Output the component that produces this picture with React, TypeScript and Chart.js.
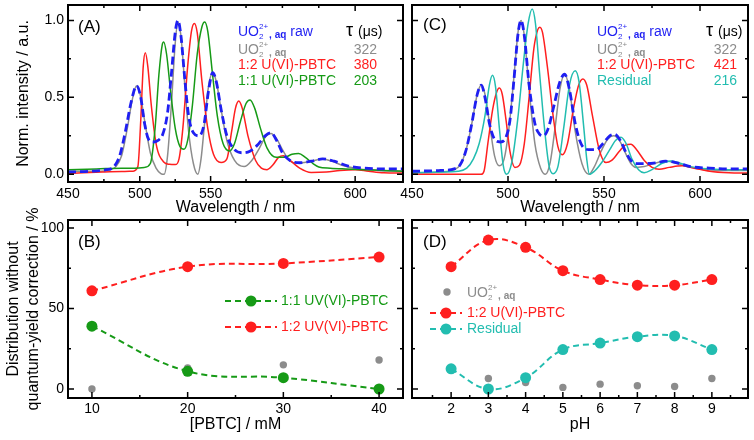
import React, { useEffect, useRef } from "react";
import { Chart, registerables } from "chart.js";

Chart.register(...registerables);

const FONT = "'Liberation Sans', Arial, Helvetica, sans-serif";
const BLUE = "#1f1ff2";
const GRAY = "#8c8c8c";
const RED = "#ff1f1f";
const GREEN = "#169a16";
const CYAN = "#22bdb0";

type Pt = [number, number];

// ---------- (A) emission spectra, normalised ----------
const aRawSpectrum: Pt[] = [
  [450, 0.015], [462, 0.02], [470, 0.03], [474, 0.05], [477, 0.12], [480, 0.28], [483, 0.47], [485.8, 0.575],
  [488, 0.5], [490, 0.33], [492, 0.23], [494.5, 0.21], [497, 0.22], [499.5, 0.26], [502, 0.4], [504, 0.65],
  [506, 0.92], [507.4, 1.0], [509, 0.9], [511, 0.62], [513, 0.38], [515.5, 0.27], [518.5, 0.25], [521, 0.32],
  [523.5, 0.55], [525.6, 0.66], [527.5, 0.6], [530, 0.42], [533, 0.25], [537, 0.16], [541, 0.14], [545, 0.15],
  [549, 0.19], [553, 0.25], [556, 0.27], [559, 0.22], [562, 0.14], [566, 0.09], [571, 0.075], [577, 0.085],
  [583, 0.1], [589, 0.085], [596, 0.055], [605, 0.04], [615, 0.035], [625, 0.035],
];
const aFreeSpectrum: Pt[] = [
  [450, 0.02], [465, 0.02], [472, 0.03], [475, 0.05], [478, 0.12], [481, 0.3], [483.5, 0.48], [485.8, 0.575],
  [487.5, 0.53], [490, 0.35], [493, 0.14], [496, 0.04], [498.5, 0.005], [500.2, 0], [502, 0.12], [504, 0.45],
  [506, 0.85], [507.4, 0.99], [509, 0.9], [511, 0.58], [513, 0.28], [515.5, 0.07], [517.8, 0], [519.5, 0.1],
  [521.5, 0.35], [523.5, 0.58], [525.6, 0.66], [527.5, 0.6], [530, 0.42], [533, 0.22], [537, 0.09], [542, 0.05],
  [546, 0.09], [550, 0.17], [553, 0.24], [556, 0.265], [559, 0.23], [562, 0.16], [565, 0.1], [568, 0.075],
  [572, 0.075], [577, 0.085], [583, 0.1], [588, 0.085], [594, 0.055], [602, 0.035], [612, 0.025], [625, 0.02],
];
const a12Spectrum: Pt[] = [
  [450, 0.005], [458, 0.01], [468, 0.015], [478, 0.018], [484, 0.02], [486.5, 0.05], [488, 0.35], [489.3, 0.7],
  [490.4, 0.79], [491.7, 0.7], [493.5, 0.45], [496, 0.2], [500, 0.08], [503, 0.065], [506, 0.063], [508, 0.1],
  [510, 0.3], [512.5, 0.7], [514.5, 0.93], [516, 0.98], [517.5, 0.92], [520, 0.6], [523, 0.3], [526, 0.13],
  [530, 0.076], [533, 0.1], [535.5, 0.28], [537.5, 0.43], [539.2, 0.476], [541, 0.43], [544, 0.25], [548, 0.09],
  [551, 0.04], [554, 0.03], [557, 0.06], [560, 0.11], [562.5, 0.12], [566, 0.09], [571, 0.04], [577, 0.012],
  [585, 0.015], [592, 0.025], [600, 0.03], [607, 0.02], [615, 0.01], [625, 0.008],
];
const a11Spectrum: Pt[] = [
  [450, 0.03], [465, 0.035], [478, 0.04], [485, 0.04], [490, 0.045], [493, 0.07], [495.5, 0.3], [497.5, 0.65],
  [499.2, 0.84], [500, 0.86], [501.5, 0.78], [503.5, 0.55], [506, 0.3], [508.5, 0.18], [510.6, 0.163], [512.5, 0.22],
  [515, 0.45], [517.5, 0.78], [520, 0.96], [521.4, 0.99], [523, 0.93], [525.5, 0.65], [528, 0.38], [531, 0.2],
  [534.4, 0.152], [537, 0.2], [540, 0.34], [543, 0.46], [545.1, 0.483], [547.5, 0.43], [550.5, 0.3], [554, 0.17],
  [558.7, 0.11], [563, 0.11], [567, 0.13], [570.5, 0.135], [574, 0.11], [578, 0.07], [581, 0.048], [587, 0.04],
  [595, 0.035], [605, 0.03], [615, 0.025], [625, 0.02],
];

// ---------- (C) emission spectra, normalised ----------
const cRawSpectrum: Pt[] = [
  [450, 0.02], [465, 0.025], [472, 0.035], [475, 0.06], [478, 0.15], [481, 0.32], [484, 0.52], [486.1, 0.58],
  [488, 0.5], [490.5, 0.32], [493.5, 0.22], [496, 0.21], [498.5, 0.23], [501, 0.35], [503, 0.6], [505.3, 0.92],
  [506.8, 1.0], [508.5, 0.9], [511, 0.58], [514, 0.33], [516.5, 0.26], [518.5, 0.25], [521, 0.3], [524, 0.45],
  [527, 0.6], [529.5, 0.65], [532, 0.55], [535, 0.33], [538, 0.2], [542, 0.16], [546, 0.16], [549.5, 0.2],
  [553, 0.25], [555.5, 0.26], [558.5, 0.22], [561.5, 0.14], [564, 0.09], [567, 0.07], [572, 0.07], [577, 0.075],
  [582, 0.085], [588, 0.075], [595, 0.05], [605, 0.04], [615, 0.035], [625, 0.035],
];
const cFreeSpectrum: Pt[] = [
  [450, 0.01], [465, 0.015], [472, 0.03], [475, 0.06], [478, 0.15], [481, 0.32], [484, 0.52], [486.1, 0.58],
  [488, 0.52], [490.5, 0.32], [493, 0.12], [495.5, 0.055], [498, 0.1], [500.5, 0.3], [503, 0.62], [505.3, 0.93],
  [506.8, 1.0], [508.5, 0.9], [511, 0.55], [514, 0.2], [517, 0.04], [519.5, 0], [522, 0.08], [524.5, 0.3],
  [527, 0.55], [529.5, 0.65], [532, 0.55], [535, 0.28], [538.5, 0.07], [542.1, 0], [545, 0.05], [548.5, 0.15],
  [552, 0.23], [555, 0.25], [558, 0.22], [561.5, 0.13], [564, 0.07], [566.6, 0.045], [571, 0.05], [576, 0.07],
  [582, 0.087], [587, 0.075], [593, 0.05], [603, 0.03], [615, 0.025], [625, 0.025],
];
const c12Spectrum: Pt[] = [
  [450, 0], [470, 0], [486, 0], [487.5, 0.02], [489.5, 0.2], [492, 0.42], [494, 0.53], [495.5, 0.56],
  [497, 0.52], [499, 0.35], [501, 0.15], [503.6, 0.045], [506, 0.06], [508.5, 0.2], [511, 0.5], [513.5, 0.82],
  [515.5, 0.94], [516.6, 0.956], [518, 0.92], [520.5, 0.7], [523.5, 0.38], [526, 0.18], [528.3, 0.127], [531, 0.2],
  [534, 0.42], [536.8, 0.58], [539, 0.62], [541, 0.58], [544, 0.38], [547.5, 0.16], [551, 0.076], [554, 0.09],
  [558, 0.15], [561, 0.19], [564, 0.196], [567, 0.16], [571, 0.09], [575, 0.045], [578.7, 0.033], [584, 0.045],
  [590.7, 0.055], [597, 0.04], [605, 0.02], [615, 0.01], [625, 0.008],
];
const cResidualSpectrum: Pt[] = [
  [450, 0.01], [465, 0.015], [474, 0.02], [478.5, 0.04], [482, 0.1], [485, 0.2], [488, 0.38], [490.3, 0.58],
  [491.9, 0.644], [493.5, 0.57], [495.5, 0.3], [497.5, 0.06], [499.3, 0], [502, 0.08], [505, 0.35], [508, 0.72],
  [510.5, 0.98], [512.6, 1.074], [514.3, 0.98], [516.5, 0.65], [519, 0.3], [521.3, 0.06], [523.5, 0.004], [526, 0.05],
  [529, 0.3], [532, 0.58], [535, 0.672], [537, 0.6], [539.5, 0.3], [541, 0.1], [542.4, 0], [545, 0.02],
  [549, 0.08], [553, 0.16], [556, 0.22], [558.8, 0.24], [561.5, 0.2], [564.5, 0.1], [568, 0.03], [570.9, 0.01],
  [575, 0.03], [580, 0.07], [584.7, 0.087], [589, 0.075], [595, 0.05], [605, 0.035], [615, 0.03], [625, 0.03],
];

// ---------- (B) species distribution vs. PBTC concentration ----------
const pbtcConc = [10, 20, 30, 40];
const b11Share = [39, 11, 7, 0];
const b12Share = [61, 76, 78, 82];
const bFreeShare = [0, 13, 15, 18];

// ---------- (D) species distribution vs. pH ----------
const phValues = [2, 3, 4, 5, 6, 7, 8, 9];
const d12Share = [76, 92.5, 88, 73.5, 68, 64.5, 64.5, 68];
const dResidualShare = [12.5, 0, 7, 24.5, 28.5, 32.5, 33, 24.5];
const dFreeShare = [12, 6.5, 4, 1, 3, 2, 1.5, 6.5];

// Lifetimes (µs)
const tauA = ["322", "380", "203"];
const tauC = ["322", "421", "216"];

// Axis ticks: (A) carries its own label placement along the wavelength axis
const aWaveTickPos = [450, 487.5, 524.5, 600];
const aWaveTickText = ["450", "500", "550", "600"];
const aWaveMinor = [468.75, 506, 543, 562, 581];
const waveMajor = [450, 500, 550, 600];
const waveMinor = [475, 525, 575];
const normMajor = [0, 0.5, 1.0];
const normMinor = [0.25, 0.75];
const concMajor = [10, 20, 30, 40];
const concMinor = [15, 25, 35];
const pctMajor = [0, 50, 100];
const pctMinor = [25, 75];
const phMajor = [2, 3, 4, 5, 6, 7, 8, 9];
const phMinor = [1.5, 2.5, 3.5, 4.5, 5.5, 6.5, 7.5, 8.5, 9.5];

const toXY = (pts: Pt[]) => pts.map(([x, y]) => ({ x, y }));
const zipXY = (xs: number[], ys: number[]) => xs.map((x, i) => ({ x, y: ys[i] }));

// Frame with inward ticks on all four sides
function framePlugin(xMajor: number[], xMinor: number[], yMajor: number[], yMinor: number[]) {
  return {
    id: "frameTicks",
    afterDatasetsDraw(chart: any) {
      const { ctx, chartArea: a, scales } = chart;
      const xs = scales.x;
      const ys = scales.y;
      ctx.save();
      ctx.strokeStyle = "#000";
      ctx.lineWidth = 1.5;
      const xt = (vals: number[], len: number) => {
        vals.forEach((v) => {
          const px = xs.getPixelForValue(v);
          ctx.beginPath();
          ctx.moveTo(px, a.bottom);
          ctx.lineTo(px, a.bottom - len);
          ctx.moveTo(px, a.top);
          ctx.lineTo(px, a.top + len);
          ctx.stroke();
        });
      };
      const yt = (vals: number[], len: number) => {
        vals.forEach((v) => {
          const py = ys.getPixelForValue(v);
          ctx.beginPath();
          ctx.moveTo(a.left, py);
          ctx.lineTo(a.left + len, py);
          ctx.moveTo(a.right, py);
          ctx.lineTo(a.right - len, py);
          ctx.stroke();
        });
      };
      xt(xMajor, 6);
      xt(xMinor, 3);
      yt(yMajor, 6);
      yt(yMinor, 3);
      ctx.lineWidth = 2;
      ctx.strokeRect(a.left, a.top, a.right - a.left, a.bottom - a.top);
      ctx.restore();
    },
  };
}

function drawUO2(ctx: CanvasRenderingContext2D, x: number, y: number, color: string, tail: string) {
  ctx.fillStyle = color;
  ctx.textAlign = "left";
  ctx.textBaseline = "alphabetic";
  ctx.font = `14px ${FONT}`;
  ctx.fillText("UO", x, y);
  let cx = x + ctx.measureText("UO").width;
  ctx.font = `8px ${FONT}`;
  ctx.fillText("2", cx, y + 3);
  ctx.fillText("2+", cx, y - 7);
  cx += ctx.measureText("2+").width + 1;
  ctx.font = `bold 10px ${FONT}`;
  ctx.fillText(", aq", cx, y + 2);
  cx += ctx.measureText(", aq").width;
  if (tail) {
    ctx.font = `14px ${FONT}`;
    ctx.fillText(tail, cx, y);
  }
}

function drawText(ctx: CanvasRenderingContext2D, s: string, x: number, y: number, color: string, size = 14, align: CanvasTextAlign = "left", baseline: CanvasTextBaseline = "alphabetic") {
  ctx.fillStyle = color;
  ctx.font = `${size}px ${FONT}`;
  ctx.textAlign = align;
  ctx.textBaseline = baseline;
  ctx.fillText(s, x, y);
}

function drawTauHeader(ctx: CanvasRenderingContext2D, x: number, y: number) {
  ctx.fillStyle = "#000";
  ctx.textAlign = "left";
  ctx.textBaseline = "alphabetic";
  ctx.font = `18px ${FONT}`;
  ctx.fillText("τ", x, y);
  const w = ctx.measureText("τ ").width;
  ctx.font = `14px ${FONT}`;
  ctx.fillText("(μs)", x + w, y);
}

function drawLegendLine(ctx: CanvasRenderingContext2D, x0: number, x1: number, y: number, color: string) {
  ctx.save();
  ctx.strokeStyle = color;
  ctx.lineWidth = 2;
  ctx.setLineDash([6, 4]);
  ctx.beginPath();
  ctx.moveTo(x0, y);
  ctx.lineTo(x1, y);
  ctx.stroke();
  ctx.setLineDash([]);
  ctx.fillStyle = color;
  ctx.beginPath();
  ctx.arc((x0 + x1) / 2, y, 5.5, 0, Math.PI * 2);
  ctx.fill();
  ctx.restore();
}

// Texts drawn in page coordinates; (ox, oy) is the canvas position on the page
function annotations(ox: number, oy: number, draw: (ctx: CanvasRenderingContext2D) => void) {
  return {
    id: "annotations",
    afterDraw(chart: any) {
      const ctx = chart.ctx as CanvasRenderingContext2D;
      ctx.save();
      ctx.translate(-ox, -oy);
      draw(ctx);
      ctx.restore();
    },
  };
}

const tickFont = { family: FONT, size: 14 };
const titleFont = { family: FONT, size: 16, lineHeight: 1.2 };

function fixedTicks(vals: number[]) {
  return (s: any) => {
    s.ticks = vals.map((v) => ({ value: v }));
  };
}

function xScale(min: number, max: number, vals: number[], labels: string[], title: string, height: number, pad: number) {
  return {
    type: "linear",
    min,
    max,
    afterBuildTicks: fixedTicks(vals),
    afterFit: (s: any) => {
      s.height = height;
      s.paddingLeft = 0;
      s.paddingRight = 0;
    },
    grid: { display: false, drawTicks: false },
    border: { display: false },
    ticks: { padding: pad, color: "#000", font: tickFont, autoSkip: false, maxRotation: 0, callback: (_v: any, i: number) => labels[i] },
    title: { display: true, text: title, color: "#000", font: titleFont, padding: 0 },
  };
}

function yScale(min: number, max: number, vals: number[], width: number, showLabels: boolean, fmt: (v: number) => string, title?: string | string[], titlePad = 0) {
  return {
    type: "linear",
    min,
    max,
    afterBuildTicks: fixedTicks(vals),
    afterFit: (s: any) => {
      s.width = width;
      s.paddingTop = 0;
      s.paddingBottom = 0;
    },
    grid: { display: false, drawTicks: false },
    border: { display: false },
    ticks: { display: showLabels, padding: 4, color: "#000", font: tickFont, callback: (v: any) => fmt(Number(v)) },
    title: title
      ? { display: true, text: title, color: "#000", font: { family: FONT, size: 16, lineHeight: 1.25 }, padding: { top: titlePad, bottom: 0 } }
      : { display: false },
  };
}

const specLine = (pts: Pt[], color: string, order: number, dashed = false) => ({
  data: toXY(pts),
  borderColor: color,
  borderWidth: dashed ? 2.8 : 1.5,
  borderDash: dashed ? [8, 4] : [],
  pointRadius: 0,
  cubicInterpolationMode: "monotone",
  order,
});

const distLine = (xs: number[], ys: number[], color: string, order: number) => ({
  data: zipXY(xs, ys),
  borderColor: color,
  backgroundColor: color,
  borderWidth: 2,
  borderDash: [6, 4],
  pointRadius: 5.5,
  pointBorderWidth: 0,
  pointBackgroundColor: color,
  tension: 0.4,
  order,
});

const dots = (xs: number[], ys: number[], color: string) => ({
  data: zipXY(xs, ys),
  showLine: false,
  pointRadius: 3.7,
  pointBorderWidth: 0,
  pointBackgroundColor: color,
  borderColor: color,
  order: 5,
});

const baseOptions = (padding: any, scales: any) => ({
  responsive: false,
  maintainAspectRatio: false,
  animation: false,
  layout: { padding },
  plugins: { legend: { display: false }, tooltip: { enabled: false } },
  scales,
});

const fmt1 = (v: number) => v.toFixed(1);
const fmt0 = (v: number) => String(Math.round(v));
const asText = (vals: number[]) => vals.map((v) => String(v));

type Box = { left: number; top: number; width: number; height: number };
const boxA: Box = { left: 0, top: 0, width: 410, height: 217 };
const boxC: Box = { left: 395, top: 0, width: 359, height: 217 };
const boxB: Box = { left: 0, top: 190, width: 410, height: 250 };
const boxD: Box = { left: 395, top: 190, width: 359, height: 250 };

function configA() {
  return {
    type: "line",
    data: {
      datasets: [
        specLine(aFreeSpectrum, GRAY, 4),
        specLine(a12Spectrum, RED, 3),
        specLine(a11Spectrum, GREEN, 2),
        specLine(aRawSpectrum, BLUE, 1, true),
      ],
    },
    options: baseOptions({ top: 5, right: 7, left: 0, bottom: 0 }, {
      x: xScale(450, 625, aWaveTickPos, aWaveTickText, "Wavelength / nm", 35, 4),
      y: yScale(-0.05, 1.1, normMajor, 68, true, fmt1, "Norm. intensity / a.u.", 14),
    }),
    plugins: [
      framePlugin(aWaveTickPos, aWaveMinor, normMajor, normMinor),
      annotations(boxA.left, boxA.top, (ctx) => {
        drawText(ctx, "(A)", 78, 27, "#000", 17, "left", "middle");
        drawUO2(ctx, 238, 36, BLUE, " raw");
        drawUO2(ctx, 238, 54, GRAY, "");
        drawText(ctx, "1:2 U(VI)-PBTC", 238, 69, RED);
        drawText(ctx, "1:1 U(VI)-PBTC", 238, 85, GREEN);
        drawTauHeader(ctx, 346, 36);
        drawText(ctx, tauA[0], 377, 54, GRAY, 14, "right");
        drawText(ctx, tauA[1], 377, 69, RED, 14, "right");
        drawText(ctx, tauA[2], 377, 85, GREEN, 14, "right");
      }),
    ],
  };
}

function configC() {
  return {
    type: "line",
    data: {
      datasets: [
        specLine(cFreeSpectrum, GRAY, 4),
        specLine(c12Spectrum, RED, 3),
        specLine(cResidualSpectrum, CYAN, 2),
        specLine(cRawSpectrum, BLUE, 1, true),
      ],
    },
    options: baseOptions({ top: 5, right: 6, left: 0, bottom: 0 }, {
      x: xScale(450, 625, waveMajor, asText(waveMajor), "Wavelength / nm", 35, 4),
      y: yScale(-0.05, 1.1, normMajor, 17, false, fmt1),
    }),
    plugins: [
      framePlugin(waveMajor, waveMinor, normMajor, normMinor),
      annotations(boxC.left, boxC.top, (ctx) => {
        drawText(ctx, "(C)", 423, 25, "#000", 17, "left", "middle");
        drawUO2(ctx, 597, 36, BLUE, " raw");
        drawUO2(ctx, 597, 54, GRAY, "");
        drawText(ctx, "1:2 U(VI)-PBTC", 597, 69, RED);
        drawText(ctx, "Residual", 597, 85, CYAN);
        drawTauHeader(ctx, 706, 36);
        drawText(ctx, tauC[0], 737, 54, GRAY, 14, "right");
        drawText(ctx, tauC[1], 737, 69, RED, 14, "right");
        drawText(ctx, tauC[2], 737, 85, CYAN, 14, "right");
      }),
    ],
  };
}

function configB() {
  return {
    type: "line",
    data: {
      datasets: [
        dots(pbtcConc, bFreeShare, GRAY),
        distLine(pbtcConc, b11Share, GREEN, 2),
        distLine(pbtcConc, b12Share, RED, 1),
      ],
    },
    options: baseOptions({ top: 30, right: 7, left: 0, bottom: 6 }, {
      x: xScale(7.5, 42.5, concMajor, asText(concMajor), "[PBTC] / mM", 36, 2.5),
      y: yScale(-5.6, 105, pctMajor, 68, true, fmt0, ["Distribution without", "quantum-yield correction / %"], 4),
    }),
    plugins: [
      framePlugin(concMajor, concMinor, pctMajor, pctMinor),
      annotations(boxB.left, boxB.top, (ctx) => {
        drawText(ctx, "(B)", 78, 242, "#000", 17, "left", "middle");
        drawLegendLine(ctx, 225, 277, 301, GREEN);
        drawText(ctx, "1:1 UV(VI)-PBTC", 281, 301, GREEN, 14, "left", "middle");
        drawLegendLine(ctx, 225, 277, 327, RED);
        drawText(ctx, "1:2 UV(VI)-PBTC", 281, 327, RED, 14, "left", "middle");
      }),
    ],
  };
}

function configD() {
  return {
    type: "line",
    data: {
      datasets: [
        dots(phValues, dFreeShare, GRAY),
        distLine(phValues, dResidualShare, CYAN, 2),
        distLine(phValues, d12Share, RED, 1),
      ],
    },
    options: baseOptions({ top: 30, right: 6, left: 0, bottom: 6 }, {
      x: xScale(0.95, 9.97, phMajor, asText(phMajor), "pH", 36, 2.5),
      y: yScale(-5.6, 105, pctMajor, 17, false, fmt0),
    }),
    plugins: [
      framePlugin(phMajor, phMinor, pctMajor, pctMinor),
      annotations(boxD.left, boxD.top, (ctx) => {
        drawText(ctx, "(D)", 423, 242, "#000", 17, "left", "middle");
        ctx.fillStyle = GRAY;
        ctx.beginPath();
        ctx.arc(447, 292, 3.7, 0, Math.PI * 2);
        ctx.fill();
        drawUO2(ctx, 467, 297, GRAY, "");
        drawLegendLine(ctx, 430, 462, 313, RED);
        drawText(ctx, "1:2 U(VI)-PBTC", 467, 313, RED, 14, "left", "middle");
        drawLegendLine(ctx, 430, 462, 329, CYAN);
        drawText(ctx, "Residual", 467, 329, CYAN, 14, "left", "middle");
      }),
    ],
  };
}

function Panel({ box, make }: { box: Box; make: () => any }) {
  const ref = useRef<HTMLCanvasElement | null>(null);
  useEffect(() => {
    if (!ref.current) return;
    const chart = new Chart(ref.current, make());
    return () => chart.destroy();
  }, []);
  return (
    <canvas
      ref={ref}
      width={box.width}
      height={box.height}
      style={{ position: "absolute", left: box.left, top: box.top, width: box.width, height: box.height }}
    />
  );
}

export default function App() {
  return (
    <div style={{ position: "absolute", left: 0, top: 0, width: 754, height: 440, background: "#fff", overflow: "hidden" }}>
      <Panel box={boxA} make={configA} />
      <Panel box={boxC} make={configC} />
      <Panel box={boxB} make={configB} />
      <Panel box={boxD} make={configD} />
    </div>
  );
}
